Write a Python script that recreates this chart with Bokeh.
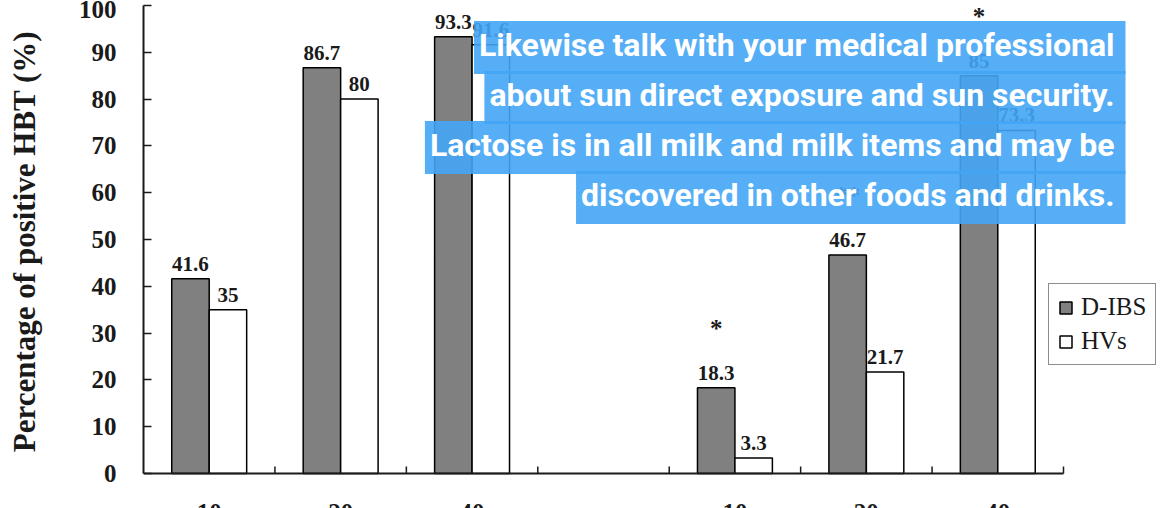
from bokeh.plotting import figure
from bokeh.models import (Range1d, FixedTicker, ColumnDataSource, LabelSet, Label,
                          Legend, LegendItem)
from bokeh.core.properties import value
from bokeh.embed import file_html
from bokeh.resources import INLINE

# ---- data ----
doses = ["10", "20", "40", "10", "20", "40"]
dibs = [41.6, 86.7, 93.3, 18.3, 46.7, 85.0]
hvs = [35, 80, 91.6, 3.3, 21.7, 73.3]
dibs_text = ["41.6", "86.7", "93.3", "18.3", "46.7", "85"]
hvs_text = ["35", "80", "91.6", "3.3", "21.7", "73.3"]
stars = ["", "", "", "*", "**", "*"]
y_ticks = [0, 10, 20, 30, 40, 50, 60, 70, 80, 90, 100]
series_names = ["D-IBS", "HVs"]
y_title = "Percentage of positive HBT (%)"
caption_lines = [
    "Likewise talk with your medical professional",
    "about sun direct exposure and sun security.",
    "Lactose is in all milk and milk items and may be",
    "discovered in other foods and drinks.",
]

# ---- layout of slots: two groups of three doses with one empty slot between ----
n_groups, per_group, gap = 2, 3, 1
slot = [g * (per_group + gap) + i for g in range(n_groups) for i in range(per_group)]
n_slots = n_groups * per_group + gap
bw = 0.285
x_d = [s - bw / 2 for s in slot]
x_h = [s + bw / 2 for s in slot]

# pixel geometry of the drawing area
W, H = 1170, 508
left_px, top_px, zero_px = 143, 5, 473
slot_px = 920 / n_slots
unit_px = (zero_px - top_px) / 100.0
x_end = -0.5 + (W - left_px) / slot_px
y_start = -(H - zero_px) / unit_px
tick_len = 7 / unit_px

src = ColumnDataSource(dict(slot=slot, x_d=x_d, x_h=x_h, dibs=dibs, hvs=hvs,
                            dibs_text=dibs_text, hvs_text=hvs_text, stars=stars,
                            doses=doses, zero=[0] * len(slot)))

SERIF = "Liberation Serif"
INK = "#1a1a1a"

p = figure(width=W, height=H,
           x_range=Range1d(-0.5, x_end), y_range=Range1d(y_start, 100),
           output_backend="svg", toolbar_location=None,
           min_border_left=left_px, min_border_right=0,
           min_border_top=top_px, min_border_bottom=0)
p.outline_line_color = None
p.xgrid.visible = False
p.ygrid.visible = False
p.xaxis.visible = False
p.background_fill_color = "white"
p.border_fill_color = "white"

r1 = p.vbar(x="x_d", top="dibs", width=bw, source=src, fill_color="#808080",
            line_color="black", line_width=1.5)
r2 = p.vbar(x="x_h", top="hvs", width=bw, source=src, fill_color="white",
            line_color="black", line_width=1.5)

# x axis line with small inward ticks at slot boundaries
bounds = [k - 0.5 for k in range(n_slots + 1)]
p.segment(x0=[bounds[0]], y0=[0], x1=[bounds[-1]], y1=[0], line_color=INK, line_width=2)
p.segment(x0=bounds[1:], y0=[0] * n_slots, x1=bounds[1:], y1=[tick_len] * n_slots,
          line_color=INK, line_width=1.5)

# y axis
p.yaxis.bounds = (0, 100)
p.yaxis.ticker = FixedTicker(ticks=y_ticks)
p.yaxis.axis_line_color = INK
p.yaxis.axis_line_width = 2
p.yaxis.major_tick_in = 8
p.yaxis.major_tick_out = 0
p.yaxis.major_tick_line_color = INK
p.yaxis.major_tick_line_width = 1.5
p.yaxis.minor_tick_line_color = None
p.yaxis.major_label_text_font = SERIF
p.yaxis.major_label_text_font_style = "bold"
p.yaxis.major_label_text_font_size = "25px"
p.yaxis.major_label_text_color = INK
p.yaxis.major_label_standoff = 27
# leading no-break spaces lift the title so it is centred on the 0-100 span
p.yaxis.axis_label = "\u00a0" * 4 + y_title
p.yaxis.axis_label_text_font = SERIF
p.yaxis.axis_label_text_font_style = "bold"
p.yaxis.axis_label_text_font_size = "31px"
p.yaxis.axis_label_text_color = INK
p.yaxis.axis_label_standoff = 34

# value labels
common = dict(source=src, text_align="center", text_baseline="bottom",
              text_font=value(SERIF), text_font_style="bold",
              text_font_size="21px", text_color=INK)
p.add_layout(LabelSet(x="x_d", y="dibs", text="dibs_text", y_offset=8, **common))
p.add_layout(LabelSet(x="x_h", y="hvs", text="hvs_text", y_offset=8, **common))
star_opts = dict(common)
star_opts["text_font_size"] = "25px"
p.add_layout(LabelSet(x="x_d", y="dibs", text="stars", y_offset=46, **star_opts))

# dose labels under the axis (cut by the bottom edge as in the reference)
p.add_layout(LabelSet(x="slot", y="zero", text="doses", y_offset=-30,
                      source=src, text_align="center", text_baseline="top",
                      text_font=value(SERIF), text_font_style="bold",
                      text_font_size="25px", text_color=INK))

# legend
legend = Legend(items=[LegendItem(label=series_names[0], renderers=[r1]),
                       LegendItem(label=series_names[1], renderers=[r2])],
                location=(905, 143))
legend.border_line_color = INK
legend.border_line_width = 1.5
legend.background_fill_color = "white"
legend.background_fill_alpha = 1
legend.label_text_font = SERIF
legend.label_text_font_size = "25px"
legend.label_text_color = INK
legend.glyph_width = 15
legend.glyph_height = 15
legend.label_height = 27
legend.label_standoff = 8
legend.spacing = 6
legend.padding = 9
legend.margin = 0
p.add_layout(legend)

# overlay caption boxes
for i, line in enumerate(caption_lines):
    p.add_layout(Label(x=982, y=461 - 50 * i, x_units="screen", y_units="screen",
                       text=line, text_align="right", text_baseline="middle",
                       text_color="white", text_font="Roboto", text_font_style="bold",
                       text_font_size="32px",
                       background_fill_color="#42A5F5", background_fill_alpha=0.9,
                       padding=(5, 11, 5, 10)))

open("out.html", "w").write(file_html(p, INLINE))
